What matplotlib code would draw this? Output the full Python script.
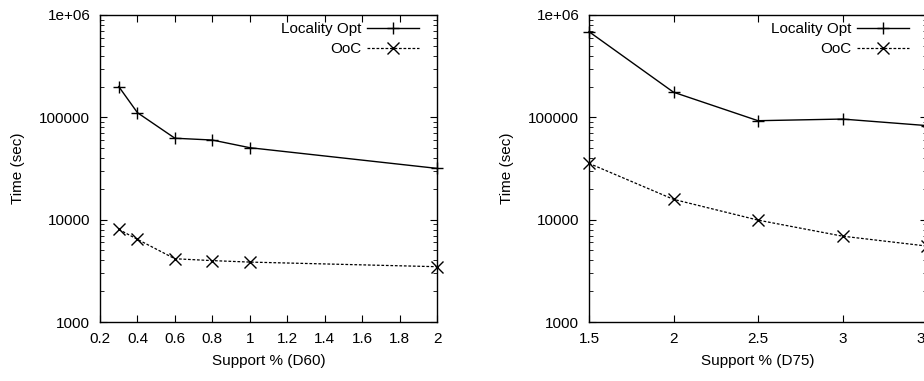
import matplotlib
matplotlib.use("Agg")
import matplotlib.pyplot as plt
from matplotlib.ticker import FixedLocator, LogLocator, NullFormatter, FixedFormatter

plt.rcParams['font.family'] = ['Liberation Sans', 'DejaVu Sans']

# Left panel (D60)
support_d60 = [0.3, 0.4, 0.6, 0.8, 1.0, 2.0]
locality_d60 = [200000, 111000, 62500, 60000, 50500, 31700]
ooc_d60 = [8040, 6420, 4150, 3980, 3850, 3470]
xticks_d60 = [0.2, 0.4, 0.6, 0.8, 1.0, 1.2, 1.4, 1.6, 1.8, 2.0]
xticklabels_d60 = ["0.2", "0.4", "0.6", "0.8", "1", "1.2", "1.4", "1.6", "1.8", "2"]

# Right panel (D75)
support_d75 = [1.5, 2.0, 2.5, 3.0, 3.5]
locality_d75 = [687000, 176000, 92700, 96200, 83000]
ooc_d75 = [35500, 15800, 9900, 6900, 5520]
xticks_d75 = [1.5, 2.0, 2.5, 3.0, 3.5]
xticklabels_d75 = ["1.5", "2", "2.5", "3", "3.5"]

yticks = [1000, 10000, 100000, 1000000]
yticklabels = ["1000", "10000", "100000", "1e+06"]

series_names = ["Locality Opt", "OoC"]

W, H = 924, 381
fig = plt.figure(figsize=(W / 100, H / 100), dpi=100)

def make_axes(rect, x, loc, ooc, xt, xtl, xlim, xlabel):
    ax = fig.add_axes(rect)
    ax.plot(x, loc, color='black', lw=1.0, marker='+', ms=9, mew=1.0,
            label=series_names[0])
    ax.plot(x, ooc, color='black', lw=0.9, ls=(0, (2.2, 1.4)), marker='x',
            ms=8, mew=1.0, label=series_names[1])
    ax.set_yscale('log')
    ax.set_ylim(1000, 1e6)
    ax.set_xlim(*xlim)
    ax.xaxis.set_major_locator(FixedLocator(xt))
    ax.xaxis.set_major_formatter(FixedFormatter(xtl))
    ax.yaxis.set_major_locator(FixedLocator(yticks))
    ax.yaxis.set_major_formatter(FixedFormatter(yticklabels))
    ax.yaxis.set_minor_locator(LogLocator(base=10, subs=range(2, 10)))
    ax.yaxis.set_minor_formatter(NullFormatter())
    ax.tick_params(which='both', direction='in', top=True, right=True,
                   labelsize=11, color='black')
    ax.tick_params(which='major', length=5, width=0.8, pad=7)
    ax.tick_params(which='minor', length=3, width=0.6)
    for s in ax.spines.values():
        s.set_linewidth(1.0)
        s.set_color('black')
    ax.set_xlabel(xlabel, fontsize=11, labelpad=6)
    ax.set_ylabel("Time (sec)", fontsize=11, labelpad=10)
    width_px = rect[2] * W
    height_px = rect[3] * H
    leg = ax.legend(loc='upper right', markerfirst=False, frameon=False,
                    fontsize=11, handlelength=3.4, handletextpad=0.35,
                    labelspacing=0.4, borderaxespad=0.0, borderpad=0.0,
                    bbox_to_anchor=(1 - 18 / width_px, 1 - 7 / height_px))
    for t in leg.get_texts():
        t.set_ha('right')
    return ax

ax1 = make_axes([100 / W, 59 / H, 337 / W, 307 / H], support_d60, locality_d60,
                ooc_d60, xticks_d60, xticklabels_d60, (0.2, 2.0), "Support % (D60)")
ax2 = make_axes([589 / W, 59 / H, 338 / W, 307 / H], support_d75, locality_d75,
                ooc_d75, xticks_d75, xticklabels_d75, (1.5, 3.5), "Support % (D75)")
for ax in (ax1, ax2):
    for l in ax.lines:
        l.set_clip_on(False)

fig.savefig("out.png", dpi=100)
